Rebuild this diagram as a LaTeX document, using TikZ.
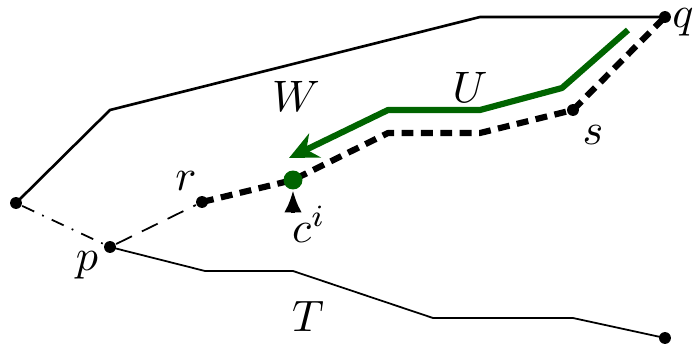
\documentclass[tikz,border=0pt]{standalone}
\usetikzlibrary{arrows.meta}
\definecolor{pathg}{HTML}{006400}

\begin{document}
\begin{tikzpicture}[
  x=0.227pt, y=-0.227pt,
  dot/.style={circle, fill=black, inner sep=0pt, minimum size=2.7pt},
  gdot/.style={circle, fill=pathg, inner sep=0pt, minimum size=4.3pt},
  bound/.style={line width=.4pt, line join=round},
  thickdash/.style={line width=1.4pt, dash pattern=on 2.7pt off 1.7pt},
  move/.style={pathg, line width=1.4pt, -{Stealth[length=6.5pt,width=6pt]}},
  lbl/.style={inner sep=0pt},
]
\useasboundingbox (0,0) rectangle (696,349);

% ---------------- points
\node[dot] (l) at (16,203) {};
\node[dot] (q) at (665,17) {};
\node[dot] (p) at (110,247) {};
\node[dot] (r) at (202,202) {};
\node[dot] (s) at (573,110) {};
\node[dot] (e) at (665,338) {};
\coordinate (w1) at (110,110);
\coordinate (w2) at (480,17);
\coordinate (t1) at (205,271);
\coordinate (t2) at (293,271);
\coordinate (t3) at (433,318);
\coordinate (t4) at (573,318);
\coordinate (d1) at (388,133);
\coordinate (d2) at (480,133);

% ---------------- boundaries
\draw[bound, line width=.6pt] (l.center) -- (w1) -- (w2) -- (q.center);
\draw[bound] (p.center) -- (t1) -- (t2) -- (t3) -- (t4) -- (e.center);
\draw[line width=.4pt, dash dot] (l) -- (p);
\draw[line width=.4pt, dash pattern=on 4pt off 2.5pt] (p) -- (r);

% ---------------- dashed path r -> q
\draw[thickdash, line join=round] (r.center) -- (293,180) -- (d1) -- (d2) -- (s.center) -- (q.center);
\node[gdot] (c) at (293,180) {};

% ---------------- path U
\coordinate (u0) at (628,30);
\coordinate (u1) at (562,88);
\coordinate (u2) at (480,110);
\coordinate (u3) at (388,110);
\coordinate (u4) at (289,158);
\draw[move, line join=round] (u0) -- (u1) -- (u2) -- (u3) -- (u4);

% ---------------- labels
\node[lbl] (lq) at (683,22) {$q$};
\node[lbl] (ls) at (593,135) {$s$};
\node[lbl] (lr) at (186,181) {$r$};
\node[lbl] (lp) at (87,265) {$p$};
\node[lbl] (lw) at (296,96) {$W$};
\node[lbl] (lu) at (470,87) {$U$};
\node[lbl] (lt) at (308,316) {$T$};
\node[lbl] (lc) at (309,224) {$c^i$};
\draw[-{Latex[length=5pt,width=4pt]}, line width=.8pt] (293,213) -- (c);

\end{tikzpicture}
\end{document}
